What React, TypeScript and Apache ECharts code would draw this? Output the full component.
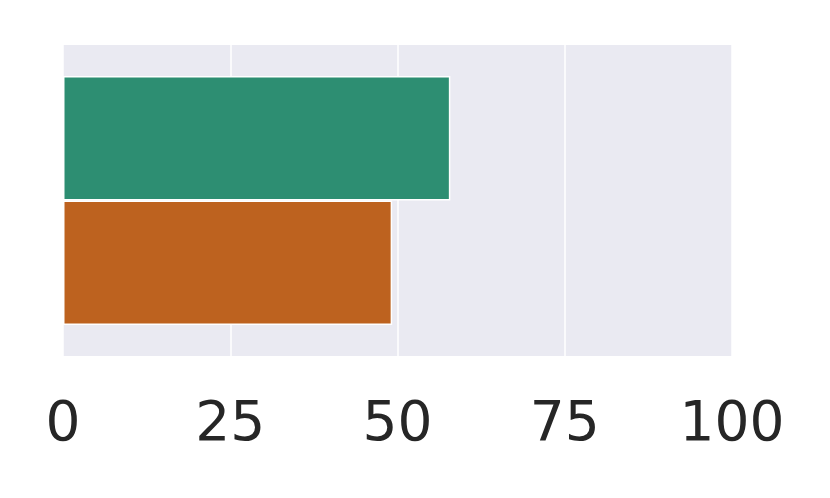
import React, { useEffect, useRef } from "react";
import * as echarts from "echarts";

const categories = [""];
const seriesNames = ["A", "B"];
const valuesA = [57.9];
const valuesB = [49.2];
const xTicks = [0, 25, 50, 75, 100];
const colors = ["#2d8e72", "#bd621f"];

export default function App() {
  const ref = useRef<HTMLDivElement>(null);
  useEffect(() => {
    const chart = echarts.init(ref.current!, undefined, { renderer: "svg" });
    chart.setOption({
      animation: false,
      backgroundColor: "#ffffff",
      grid: { left: 63, right: 98, top: 45, bottom: 142, backgroundColor: "#eaeaf2", show: true, borderWidth: 0 },
      xAxis: {
        type: "value",
        min: xTicks[0],
        max: xTicks[xTicks.length - 1],
        interval: 25,
        axisLine: { show: false },
        axisTick: { show: false },
        splitLine: { show: true, lineStyle: { color: "#ffffff", width: 1.5 } },
        axisLabel: { fontSize: 55, color: "#262626", fontFamily: "DejaVu Sans", margin: 37 },
      },
      yAxis: {
        type: "category",
        data: categories,
        inverse: true,
        axisLine: { show: false },
        axisTick: { show: false },
        axisLabel: { show: false },
        splitLine: { show: false },
      },
      series: [
        {
          name: seriesNames[0],
          type: "bar",
          data: valuesA,
          barWidth: "40%",
          barGap: "0%",
          itemStyle: { color: colors[0], borderColor: "#ffffff", borderWidth: 1.5 },
        },
        {
          name: seriesNames[1],
          type: "bar",
          data: valuesB,
          barWidth: "40%",
          barGap: "0%",
          itemStyle: { color: colors[1], borderColor: "#ffffff", borderWidth: 1.5 },
        },
      ],
    });
    return () => chart.dispose();
  }, []);
  return <div ref={ref} style={{ width: 830, height: 498, position: "absolute", left: 0, top: 0 }} />;
}
